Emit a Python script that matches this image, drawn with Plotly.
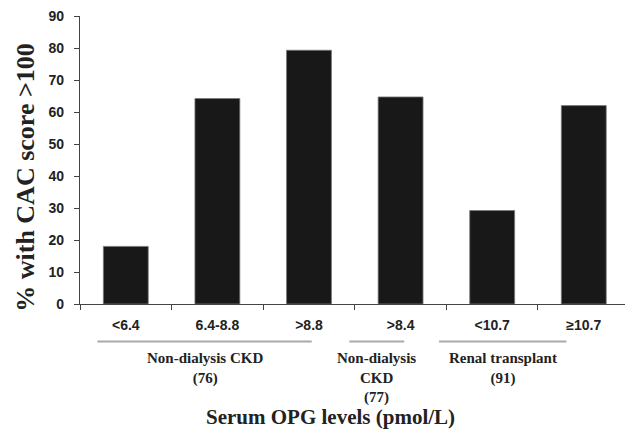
import plotly.graph_objects as go

categories = ["<6.4", "6.4-8.8", ">8.8", ">8.4", "<10.7", "≥10.7"]
values = [18, 64.2, 79.3, 64.7, 29.2, 62]
groups = ["Non-dialysis CKD<br>(76)", "Non-dialysis<br>CKD<br>(77)", "Renal transplant<br>(91)"]
group_spans = [(-0.31, 2.03), (2.44, 3.04), (3.42, 4.81)]
y_ticks = list(range(0, 100, 10))

def esc(s):
    return s.replace("<", "&lt;").replace(">", "&gt;")

fig = go.Figure()
fig.add_trace(go.Bar(
    x=categories, y=values, width=0.49,
    marker=dict(color="#181818", line=dict(color="#777777", width=0.8)),
))

serif = "Liberation Serif"
sans = "Liberation Sans"

shapes = []
annotations = []
for (x0, x1), g in zip(group_spans, groups):
    shapes.append(dict(type="line", xref="x", yref="paper", x0=x0, x1=x1,
                       y0=-0.13, y1=-0.13, line=dict(color="#aaaaaa", width=2)))
    annotations.append(dict(xref="x", yref="paper", x=(x0 + x1) / 2, y=-0.152,
                            yanchor="top", xanchor="center", showarrow=False,
                            text="<b>" + g + "</b>",
                            font=dict(family=serif, size=15, color="#222222")))

annotations.append(dict(xref="paper", yref="paper", x=0.46, y=-0.344, yanchor="top",
                        xanchor="center", showarrow=False,
                        text="<b>Serum OPG levels (pmol/L)</b>",
                        font=dict(family=serif, size=21, color="#222222")))
annotations.append(dict(xref="paper", yref="paper", x=-0.1, y=0.44, yanchor="middle",
                        xanchor="center", showarrow=False, textangle=-90,
                        text="<b>% with CAC score &gt;100</b>",
                        font=dict(family=serif, size=26, color="#222222")))

fig.update_layout(
    width=625, height=429,
    margin=dict(l=80, r=0, t=16, b=125),
    plot_bgcolor="white", paper_bgcolor="white",
    showlegend=False,
    shapes=shapes, annotations=annotations,
    xaxis=dict(
        type="category", range=[-0.5, 5.45],
        tickvals=categories, ticktext=["<b>" + esc(c) + "</b>" for c in categories],
        tickson="boundaries", ticks="outside", ticklen=5, tickcolor="#444444",
        ticklabelstandoff=8,
        showline=True, linecolor="#444444", linewidth=1.2,
        showgrid=False, tickfont=dict(family=sans, size=14, color="#222222"),
    ),
    yaxis=dict(
        range=[0, 90], tickvals=y_ticks, ticktext=["<b>%d</b>" % v for v in y_ticks],
        ticks="outside", ticklen=5, tickcolor="#444444",
        ticklabelstandoff=7,
        showline=True, linecolor="#444444", linewidth=1.2,
        showgrid=False, zeroline=False,
        tickfont=dict(family=sans, size=14, color="#222222"),
    ),
)

fig.write_html("out.html", config={"displayModeBar": False},
               post_script="document.body.style.margin='0';document.body.style.overflow='hidden';")
